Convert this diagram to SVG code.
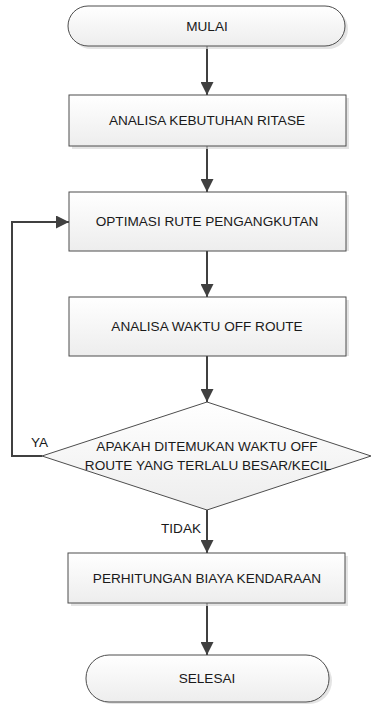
<svg xmlns="http://www.w3.org/2000/svg" width="371" height="704" viewBox="0 0 371 704">
  <style>
    .shape { stroke: #4d4d4d; stroke-width: 1; fill: url(#fillGrad); }
    .shadow { fill: #d9d9d9; opacity: 0.7; }
    .label { font-family: "Liberation Sans", Arial, sans-serif; font-size: 13.6px; fill: #1a1a1a; text-anchor: middle; }
    .side { font-family: "Liberation Sans", Arial, sans-serif; font-size: 13.6px; fill: #1a1a1a; }
    .flow { stroke: #404040; stroke-width: 2; fill: none; marker-end: url(#arrow); }
  </style>
  <defs>
    <linearGradient id="fillGrad" x1="0" y1="0" x2="0" y2="1">
      <stop offset="0" stop-color="#ffffff"/>
      <stop offset="1" stop-color="#ededed"/>
    </linearGradient>
    <marker id="arrow" viewBox="0 0 10 10" refX="10" refY="5" markerWidth="6.5" markerHeight="6.5" markerUnits="strokeWidth" orient="auto">
      <path d="M0,0 L10,5 L0,10 Z" fill="#404040"/>
    </marker>
  </defs>

  <rect width="371" height="704" fill="#ffffff"/>

  <!-- connectors -->
  <g id="connectors">
    <line class="flow" x1="207" y1="46" x2="207" y2="95"/>
    <line class="flow" x1="207" y1="146" x2="207" y2="192"/>
    <line class="flow" x1="207" y1="251" x2="207" y2="297"/>
    <line class="flow" x1="207" y1="356" x2="207" y2="402"/>
    <line class="flow" x1="207" y1="510" x2="207" y2="553"/>
    <line class="flow" x1="207" y1="603" x2="207" y2="655"/>
    <polyline class="flow" points="42,456 12,456 12,222 69,222"/>
    <text class="side" x="31" y="447">YA</text>
    <text class="side" x="161" y="533">TIDAK</text>
  </g>

  <!-- start terminal -->
  <g id="start">
    <rect class="shadow" x="71" y="9" width="277" height="40" rx="20"/>
    <rect class="shape" x="68" y="6" width="277" height="40" rx="20"/>
    <text class="label" x="207" y="31">MULAI</text>
  </g>

  <g id="analisa-ritase">
    <rect class="shadow" x="72" y="98" width="277" height="51"/>
    <rect class="shape" x="69" y="95" width="277" height="51"/>
    <text class="label" x="207" y="125">ANALISA KEBUTUHAN RITASE</text>
  </g>

  <g id="optimasi-rute">
    <rect class="shadow" x="72" y="195" width="277" height="56"/>
    <rect class="shape" x="69" y="192" width="277" height="59"/>
    <text class="label" x="207" y="226">OPTIMASI RUTE PENGANGKUTAN</text>
  </g>

  <g id="analisa-waktu">
    <rect class="shadow" x="72" y="300" width="277" height="56"/>
    <rect class="shape" x="69" y="297" width="277" height="59"/>
    <text class="label" x="207" y="331">ANALISA WAKTU OFF ROUTE</text>
  </g>

  <!-- decision -->
  <g id="keputusan">
    <polygon class="shape" points="207,402 371,456 207,510 42,456"/>
    <text class="label" x="207" y="451">APAKAH DITEMUKAN WAKTU OFF</text>
    <text class="label" x="208" y="470">ROUTE YANG TERLALU BESAR/KECIL</text>
  </g>

  <g id="biaya-kendaraan">
    <rect class="shadow" x="71" y="556" width="277" height="50"/>
    <rect class="shape" x="68" y="553" width="277" height="50"/>
    <text class="label" x="207" y="583">PERHITUNGAN BIAYA KENDARAAN</text>
  </g>

  <!-- end terminal -->
  <g id="end">
    <rect class="shadow" x="89" y="658" width="243" height="46" rx="23"/>
    <rect class="shape" x="86" y="655" width="243" height="47" rx="23"/>
    <text class="label" x="207" y="683">SELESAI</text>
  </g>
</svg>
